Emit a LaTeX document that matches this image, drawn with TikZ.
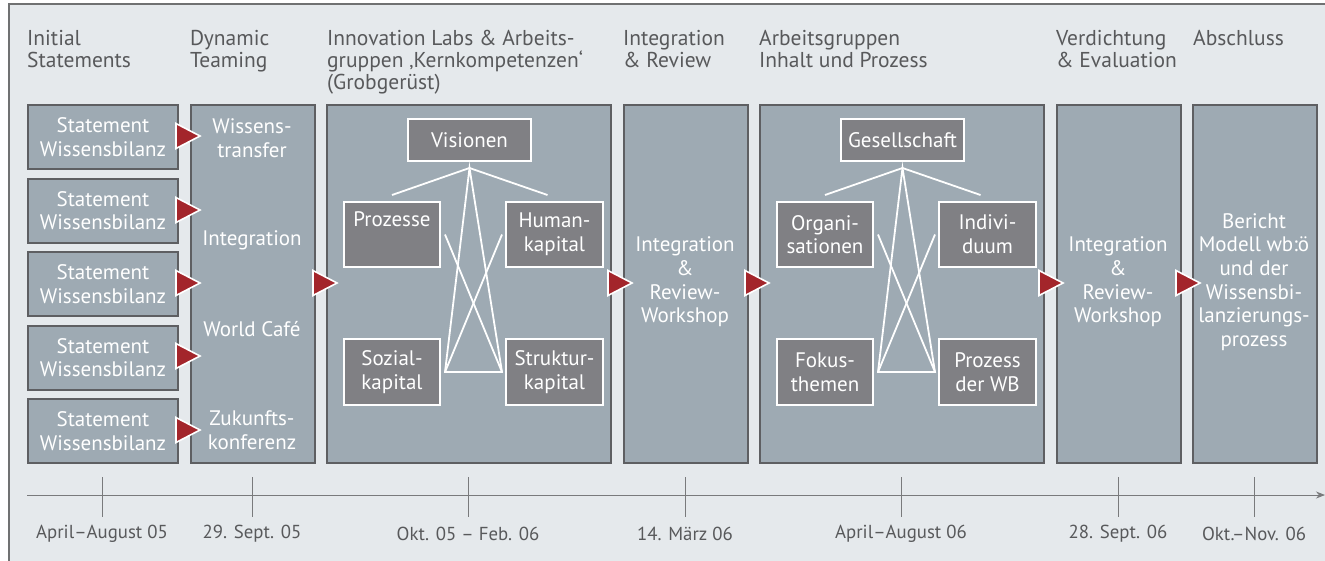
\documentclass[tikz,border=0pt]{standalone}
\usepackage{fontspec}
\setmainfont{PT Sans}
\usepackage{tikz}
\usetikzlibrary{arrows.meta}

\definecolor{bgcol}{HTML}{E5E9EC}
\definecolor{framecol}{HTML}{707172}
\definecolor{boxfill}{HTML}{9EAAB3}
\definecolor{boxline}{HTML}{5E5F62}
\definecolor{itemfill}{HTML}{808084}
\definecolor{headgray}{HTML}{58595B}
\definecolor{markred}{HTML}{A3252B}

\tikzset{
  phase/.style={draw=boxline, line width=2pt, fill=boxfill, anchor=north west, inner sep=0pt,
    text=white, align=center, font=\fontsize{21}{23.7}\selectfont},
  item/.style={draw=white, line width=2pt, fill=itemfill, anchor=north west, inner sep=0pt,
    text=white, align=center, font=\fontsize{21}{23.7}\selectfont},
  intext/.style={text=white, align=center, inner sep=0pt, font=\fontsize{21}{23.7}\selectfont},
  head/.style={anchor=north west, align=left, inner sep=0pt, text=headgray,
    font=\fontsize{21.5}{22}\selectfont},
  datetext/.style={text=headgray, inner sep=0pt, font=\fontsize{18.8}{20}\selectfont},
  link/.style={draw=white, line width=1.8pt},
  tipmark/.style={fill=markred, draw=white, line width=1.6pt, line join=miter},
  axis/.style={draw=headgray!80, line width=1pt},
}
\newcommand{\redtri}[2]{\filldraw[tipmark] (#1,#2-12.5) -- (#1+24,#2) -- (#1,#2+12.5) -- cycle;}

\begin{document}
\begin{tikzpicture}[x=1pt, y=-1pt]
  \useasboundingbox (0,0) rectangle (1325,560);
  \fill[bgcol] (9,4) rectangle (1330,565);
  \draw[framecol, line width=2.5pt] (9,570) -- (9,4) -- (1330,4);

  % headings
  \node[head] (h1) at (27,30) {Initial\\Statements};
  \node[head] (h2) at (190,30) {Dynamic\\Teaming};
  \node[head] (h3) at (327,30) {Innovation Labs \& Arbeits-\\gruppen ‚Kernkompetenzen‘\\(Grobgerüst)};
  \node[head] (h4) at (623,30) {Integration\\\& Review};
  \node[head] (h5) at (759,30) {Arbeitsgruppen\\Inhalt und Prozess};
  \node[head] (h6) at (1056,30) {Verdichtung\\\& Evaluation};
  \node[head] (h7) at (1193,30) {Abschluss};

  % statements
  \node[phase, minimum width=150pt, minimum height=64pt] (st1) at (27,104) {Statement\\Wissensbilanz};
  \node[phase, minimum width=150pt, minimum height=64pt] (st2) at (27,177.5) {Statement\\Wissensbilanz};
  \node[phase, minimum width=150pt, minimum height=64pt] (st3) at (27,251) {Statement\\Wissensbilanz};
  \node[phase, minimum width=150pt, minimum height=64pt] (st4) at (27,324.5) {Statement\\Wissensbilanz};
  \node[phase, minimum width=150pt, minimum height=64pt] (st5) at (27,398) {Statement\\Wissensbilanz};

  % columns
  \node[phase, minimum width=124pt, minimum height=358pt] (dyn) at (190,104) {};
  \node[phase, minimum width=284pt, minimum height=358pt] (labs) at (326,104) {};
  \node[phase, minimum width=124pt, minimum height=358pt] (review) at (623,104) {};
  \node[phase, minimum width=284pt, minimum height=358pt] (groups) at (759,104) {};
  \node[phase, minimum width=124pt, minimum height=358pt] (evaluation) at (1056,104) {};
  \node[phase, minimum width=124pt, minimum height=358pt] (closing) at (1192,104) {};

  \node[intext] (dyn1) at (252,138) {Wissens-\\transfer};
  \node[intext] (dyn2) at (252,240) {Integration};
  \node[intext] (dyn3) at (252,329) {World Café};
  \node[intext] (dyn4) at (252,430) {Zukunfts-\\konferenz};
  \node[intext] (rev) at (685,282) {Integration\\\&\\Review-\\Workshop};
  \node[intext] (eval) at (1118,282) {Integration\\\&\\Review-\\Workshop};
  \node[intext] (close) at (1254,282) {Bericht\\Modell wb:ö\\und der\\Wissensbi-\\lanzierungs-\\prozess};

  % Innovation Labs
  \node[item, minimum width=123pt, minimum height=42pt] (vis) at (407,118) {Visionen};
  \node[item, minimum width=96pt, minimum height=65pt] (pro) at (343,201) {Prozesse\\\strut};
  \node[item, minimum width=97pt, minimum height=65pt] (hum) at (505,201) {Human-\\kapital};
  \node[item, minimum width=96pt, minimum height=66pt] (soz) at (343,338) {Sozial-\\kapital};
  \node[item, minimum width=97pt, minimum height=66pt] (str) at (505,338) {Struktur-\\kapital};

  \coordinate (vtop) at ([yshift=-6pt]vis.south);
  \coordinate (sozR) at ([xshift=4pt]soz.east);
  \coordinate (strL) at ([xshift=-3pt]str.west);
  \draw[link] (vtop) -- ([yshift=6pt]pro.north);
  \draw[link] (vtop) -- ([xshift=-7pt,yshift=6pt]hum.north);
  \draw[link] (vtop) -- (sozR) -- (strL) -- cycle;
  \draw[link] ([xshift=4pt]pro.east) -- (strL);
  \draw[link] ([xshift=-3pt]hum.west) -- (sozR);

  % Arbeitsgruppen
  \node[item, minimum width=123pt, minimum height=42pt] (ges) at (840,118) {Gesellschaft};
  \node[item, minimum width=96pt, minimum height=65pt] (org) at (776,201) {Organi-\\sationen};
  \node[item, minimum width=97pt, minimum height=65pt] (ind) at (938,201) {Indivi-\\duum};
  \node[item, minimum width=96pt, minimum height=66pt] (fok) at (776,338) {Fokus-\\themen};
  \node[item, minimum width=97pt, minimum height=66pt] (pwb) at (938,338) {Prozess\\der WB};

  \coordinate (gtop) at ([yshift=-6pt]ges.south);
  \coordinate (fokR) at ([xshift=4pt]fok.east);
  \coordinate (pwbL) at ([xshift=-3pt]pwb.west);
  \draw[link] (gtop) -- ([yshift=6pt]org.north);
  \draw[link] (gtop) -- ([xshift=-7pt,yshift=6pt]ind.north);
  \draw[link] (gtop) -- (fokR) -- (pwbL) -- cycle;
  \draw[link] ([xshift=4pt]org.east) -- (pwbL);
  \draw[link] ([xshift=-3pt]ind.west) -- (fokR);

  % red markers
  \redtri{176}{136}
  \redtri{176}{210}
  \redtri{176}{283}
  \redtri{176}{356}
  \redtri{176}{430}
  \redtri{313}{283}
  \redtri{608}{283}
  \redtri{745}{283}
  \redtri{1039}{283}
  \redtri{1176}{283}

  % timeline
  \coordinate (t0) at (27,495);
  \coordinate (tend) at (1325,495);
  \draw[axis, -{Stealth[length=9pt,width=7pt]}] (t0) -- (tend);
  \draw[axis] (102,477) -- (102,517);
  \draw[axis] (252,477) -- (252,517);
  \draw[axis] (468,477) -- (468,517);
  \draw[axis] (685,477) -- (685,517);
  \draw[axis] (901,477) -- (901,517);
  \draw[axis] (1118,477) -- (1118,517);
  \draw[axis] (1254,477) -- (1254,517);
  \node[datetext] (d1) at (102,534) {April–August 05};
  \node[datetext] (d2) at (252,534) {29. Sept. 05};
  \node[datetext] (d3) at (468,534) {Okt. 05 – Feb. 06};
  \node[datetext] (d4) at (685,534) {14. März 06};
  \node[datetext] (d5) at (901,534) {April–August 06};
  \node[datetext] (d6) at (1118,534) {28. Sept. 06};
  \node[datetext] (d7) at (1254,534) {Okt.–Nov. 06};
\end{tikzpicture}
\end{document}
